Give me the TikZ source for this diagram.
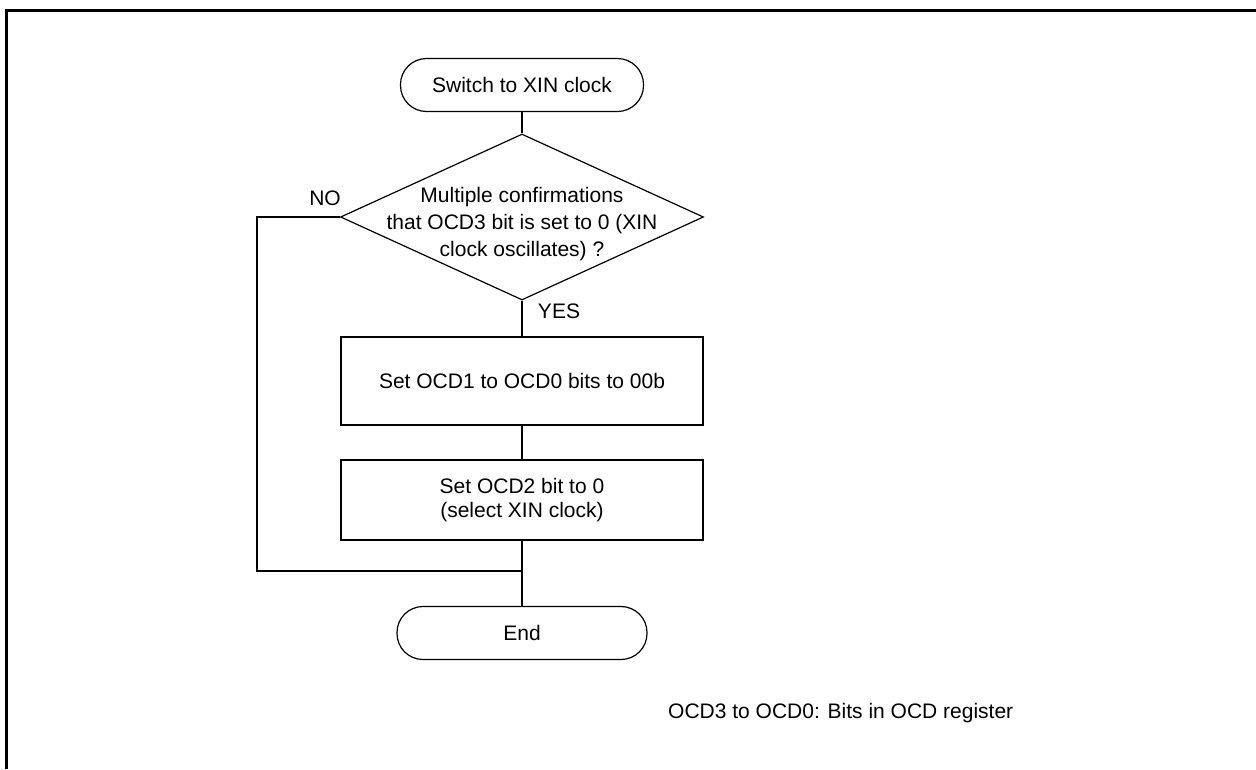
\documentclass[tikz,border=0pt]{standalone}
\usepackage{fontspec}
\setmainfont{Liberation Sans}
\usetikzlibrary{shapes.geometric}
\begin{document}
\begin{tikzpicture}[x=1pt,y=-1pt,
  every node/.style={font=\fontsize{21}{26}\selectfont},
  link/.style={line width=1.2pt},
  term/.style={draw,line width=1.2pt,rounded corners=26pt,minimum height=53pt,inner sep=0pt},
  proc/.style={draw,line width=1.2pt,minimum width=362pt,inner sep=0pt},
  dec/.style={draw,line width=1.2pt,diamond,minimum width=363pt,minimum height=166pt,inner sep=0pt},
  lbl/.style={inner sep=0pt}]
\useasboundingbox (0,0) rectangle (1256,769);
% frame
\draw[line width=3pt] (1256,10.5) -- (6.5,10.5) -- (6.5,769);
% nodes
\node[term,minimum width=243pt] (s) at (522,85) {Switch to XIN clock};
\node[dec] (d) at (522,217) {};
\node[lbl,align=center,font=\fontsize{21}{26.7}\selectfont] (dt) at (522,224) {Multiple confirmations\\that OCD3 bit is set to 0 (XIN\\clock oscillates) ?};
\node[proc,minimum height=88pt] (b1) at (522,381) {Set OCD1 to OCD0 bits to 00b};
\node[proc,minimum height=80pt,align=center,font=\fontsize{21}{23.7}\selectfont] (b2) at (522,500) {Set OCD2 bit to 0\\(select XIN clock)};
\node[term,minimum width=250pt] (e) at (522,633) {End};
\node[lbl] (no) at (325,198) {NO};
\node[lbl] (yes) at (559,311) {YES};
\node[lbl,anchor=west] (note) at (668,713) {OCD3 to OCD0: Bits in OCD register};
\coordinate (l1) at (257,217);
\coordinate (j) at (522,571);
% connectors
\draw[link] (s.south) -- (d.north);
\draw[link] (d.south) -- (b1.north);
\draw[link] (b1.south) -- (b2.north);
\draw[link] (b2.south) -- (e.north);
\draw[link] (d.west) -- (l1) |- (j);
\end{tikzpicture}
\end{document}
